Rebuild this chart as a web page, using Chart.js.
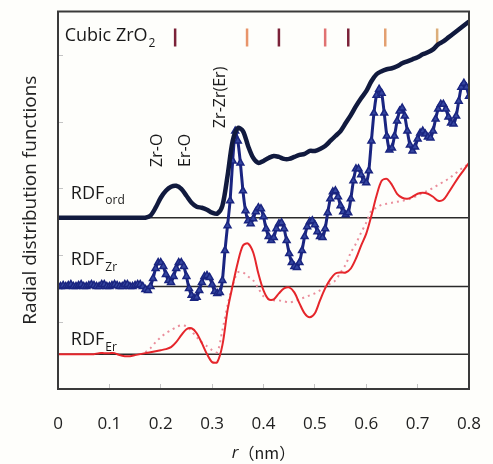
<!DOCTYPE html>
<html>
<head>
<meta charset="utf-8">
<title>RDF</title>
<script src="https://cdn.jsdelivr.net/npm/chart.js@4.4.1/dist/chart.umd.min.js"></script>
<style>
  body { margin: 0; background: #fefefb; }
  #wrap { width: 493px; height: 464px; }
</style>
</head>
<body>
<div id="wrap"><canvas id="rdf" width="493" height="464"></canvas></div>
<script>
// r grid (nm)
const R_STEP = 0.01;
const R_STEP_FINE = 0.005;
const xTicks = [0, 0.1, 0.2, 0.3, 0.4, 0.5, 0.6, 0.7, 0.8];

// curves, already shifted to their own baselines (arbitrary units)
const rdfOrd = [
  172, 172, 172, 172, 172, 172, 172, 172, 172, 172,
  172, 172, 172, 172, 172, 172, 172, 172, 174, 182,
  192, 199, 203, 204, 201, 194, 187, 183, 182, 180,
  177, 176, 184, 214, 249, 262, 259, 244, 232, 227,
  229, 232, 234, 233, 231, 231, 233, 235, 236, 239,
  239, 241, 244, 249, 254, 259, 267, 275, 284, 292,
  299, 309, 316, 319, 321, 322, 324, 327, 329, 331,
  333, 336, 338, 341, 346, 349, 353, 357, 361, 365,
  369
];

// sampled every 0.005 nm
const rdfZr = [
  103, 103, 104, 103, 104, 105, 103, 103, 104, 105, 103, 103, 104, 105, 104, 103, 103, 105, 105, 103,
  103, 104, 105, 104, 103, 103, 105, 105, 103, 103, 104, 105, 105, 103, 100, 99, 103, 111, 121, 127,
  127, 123, 115, 109, 107, 113, 121, 127, 127, 123, 113, 101, 94, 91, 92, 99, 107, 113, 114, 112,
  105, 98, 96, 97, 109, 139, 164, 189, 229, 259, 249, 227, 199, 179, 169, 166, 171, 178, 182, 181,
  173, 161, 153, 149, 152, 161, 166, 167, 161, 149, 136, 127, 123, 122, 127, 139, 153, 163, 168, 169,
  165, 158, 153, 152, 161, 177, 191, 198, 199, 193, 184, 178, 175, 177, 191, 209, 221, 221, 215, 209,
  207, 219, 249, 277, 295, 301, 297, 277, 254, 240, 242, 254, 269, 279, 282, 274, 259, 245, 239, 243,
  251, 257, 259, 256, 253, 252, 259, 271, 281, 286, 286, 281, 273, 267, 266, 274, 289, 303, 307, 303,
  294
];

const rdfEr = [
  35, 35, 35, 35, 35, 35, 35, 35, 36, 36,
  36, 36, 34, 33, 33, 34, 35, 36, 37, 38,
  39, 40, 42, 47, 54, 60, 61, 56, 46, 35,
  27, 27, 44, 79, 104, 127, 144, 146, 137, 116,
  99, 90, 90, 96, 101, 102, 97, 86, 76, 72,
  76, 89, 101, 110, 116, 117, 117, 121, 131, 144,
  156, 174, 194, 209, 211, 205, 196, 192, 191, 193,
  196, 197, 196, 193, 189, 190, 197, 205, 213, 220,
  227
];

// dotted curve, starts at r = 0.17
const rdfErDotStart = 0.17;
const rdfErDot = [
  37, 41, 47,
  52, 56, 59, 62, 64, 63, 58, 52, 47, 43,
  39, 37, 59, 84, 104, 117, 117, 113, 109, 101,
  93, 90, 89, 89, 88, 87, 88, 90, 92, 94,
  96, 99, 102, 106, 109, 117, 125, 137, 146, 157,
  167, 179, 182, 185, 186, 187, 188, 189, 190, 192,
  194, 197, 199, 202, 205, 208, 211, 215, 219, 223,
  226
];

const baselineLevels = [172, 103, 35];

// cubic ZrO2 reflections
const cubicPeaks = [0.228, 0.368, 0.430, 0.520, 0.565, 0.637, 0.738];
const cubicColors = ["#7b2238", "#e8946a", "#7b2238", "#e07272", "#7b2238", "#e3a070", "#dcae7a"];
const cubicLevel = 353;

function toPoints(values, start, step) {
  return values.map((v, i) => ({ x: +(start + i * step).toFixed(3), y: v }));
}

function drawSub(ctx, main, sub, px, py, size, subSize) {
  ctx.font = `${size}px "Open Sans"`;
  ctx.fillText(main, px, py);
  const w = ctx.measureText(main).width;
  ctx.font = `${subSize}px "Open Sans"`;
  ctx.fillText(sub, px + w + 1, py + subSize * 0.45);
}

const textPlugin = {
  id: "rdfText",
  afterDatasetsDraw(chart) {
    const { ctx, chartArea, scales } = chart;
    const x = scales.x, y = scales.y;
    ctx.save();

    // frame
    ctx.strokeStyle = "#3a3a3a";
    ctx.lineWidth = 2;
    ctx.strokeRect(chartArea.left, chartArea.top, chartArea.width, chartArea.height);

    ctx.fillStyle = "#1a1a1a";
    ctx.textAlign = "left";
    ctx.textBaseline = "alphabetic";
    drawSub(ctx, "Cubic ZrO", "2", x.getPixelForValue(0.013), y.getPixelForValue(349), 18, 12);
    drawSub(ctx, "RDF", "ord", x.getPixelForValue(0.025), y.getPixelForValue(191), 18, 12);
    drawSub(ctx, "RDF", "Zr", x.getPixelForValue(0.025), y.getPixelForValue(124), 18, 12);
    drawSub(ctx, "RDF", "Er", x.getPixelForValue(0.025), y.getPixelForValue(44), 18, 12);

    // rotated peak labels
    const peakLabels = [
      { text: "Zr-O", r: 0.193, v: 223 },
      { text: "Er-O", r: 0.249, v: 223 },
      { text: "Zr-Zr(Er)", r: 0.317, v: 262 }
    ];
    ctx.font = '16px "Open Sans"';
    ctx.textBaseline = "middle";
    peakLabels.forEach((l) => {
      ctx.save();
      ctx.translate(x.getPixelForValue(l.r), y.getPixelForValue(l.v));
      ctx.rotate(-Math.PI / 2);
      ctx.fillText(l.text, 0, 0);
      ctx.restore();
    });

    // x title: italic r + (nm)
    const cx = (chartArea.left + chartArea.right) / 2;
    const ty = 453;
    ctx.font = 'italic 17px "Open Sans"';
    const w1 = ctx.measureText("r").width;
    ctx.font = '16px "Noto Sans CJK JP"';
    const w2 = ctx.measureText("（nm）").width;
    const sx = cx - (w1 + w2) / 2;
    ctx.font = 'italic 17px "Open Sans"';
    ctx.fillText("r", sx, ty);
    ctx.font = '16px "Noto Sans CJK JP"';
    ctx.fillText("（nm）", sx + w1, ty);

    ctx.restore();
  }
};

const datasets = [
  {
    label: "RDF ord",
    data: toPoints(rdfOrd, 0, R_STEP),
    borderColor: "#111a3e",
    borderWidth: 4.5,
    pointRadius: 0,
    tension: 0.3
  },
  {
    label: "RDF Zr",
    data: toPoints(rdfZr, 0, R_STEP_FINE),
    borderColor: "#1a2580",
    borderWidth: 3,
    pointStyle: "triangle",
    pointRadius: 4,
    pointBorderWidth: 1.5,
    pointBorderColor: "#1a2580",
    pointBackgroundColor: "#3546a0",
    tension: 0.2
  },
  {
    label: "RDF Er",
    data: toPoints(rdfEr, 0, R_STEP),
    borderColor: "#e5262b",
    borderWidth: 2,
    pointRadius: 0,
    tension: 0.3
  },
  {
    label: "RDF Er dotted",
    data: toPoints(rdfErDot, rdfErDotStart, R_STEP),
    borderColor: "#ea8e9c",
    borderWidth: 2,
    borderDash: [2, 4],
    pointRadius: 0,
    tension: 0.3
  },
  {
    label: "Cubic ZrO2",
    data: cubicPeaks.map((r) => ({ x: r, y: cubicLevel })),
    showLine: false,
    pointStyle: "line",
    rotation: 90,
    pointRadius: 9,
    pointBorderWidth: 2.5,
    pointBorderColor: cubicColors,
    pointBackgroundColor: cubicColors
  }
];

baselineLevels.forEach((lvl) => {
  datasets.push({
    label: "baseline",
    data: [{ x: 0, y: lvl }, { x: 0.8, y: lvl }],
    borderColor: "#2a2a2a",
    borderWidth: 1.5,
    pointRadius: 0
  });
});

new Chart(document.getElementById("rdf").getContext("2d"), {
  type: "line",
  data: { datasets: datasets },
  options: {
    responsive: false,
    animation: false,
    layout: { padding: { top: 10, right: 24, left: 0, bottom: 0 } },
    plugins: {
      legend: { display: false },
      tooltip: { enabled: false }
    },
    scales: {
      x: {
        type: "linear",
        min: 0,
        max: 0.8,
        afterBuildTicks: (scale) => {
          scale.ticks = xTicks.map((v) => ({ value: v }));
        },
        afterFit: (scale) => {
          scale.height = 75;
          scale.paddingLeft = 0;
          scale.paddingRight = 0;
        },
        ticks: {
          color: "#222",
          font: { size: 17, family: "Open Sans" },
          padding: 30,
          maxRotation: 0,
          callback: (v) => (v === 0 ? "0" : v.toFixed(1))
        },
        grid: {
          drawOnChartArea: false,
          drawTicks: true,
          tickLength: -5,
          tickColor: "#c4c4c4"
        },
        border: { display: false }
      },
      y: {
        type: "linear",
        min: 0,
        max: 379,
        afterFit: (scale) => {
          scale.width = 58;
          scale.paddingTop = 0;
          scale.paddingBottom = 0;
        },
        ticks: { display: false, stepSize: 67 },
        grid: {
          drawOnChartArea: false,
          drawTicks: true,
          tickLength: -5,
          tickColor: "#c4c4c4"
        },
        border: { display: false },
        title: {
          display: true,
          text: "Radial distribution functions",
          color: "#222",
          font: { size: 19, family: "Open Sans" },
          padding: { top: 19, bottom: 0 }
        }
      }
    }
  },
  plugins: [textPlugin]
});
</script>
</body>
</html>
